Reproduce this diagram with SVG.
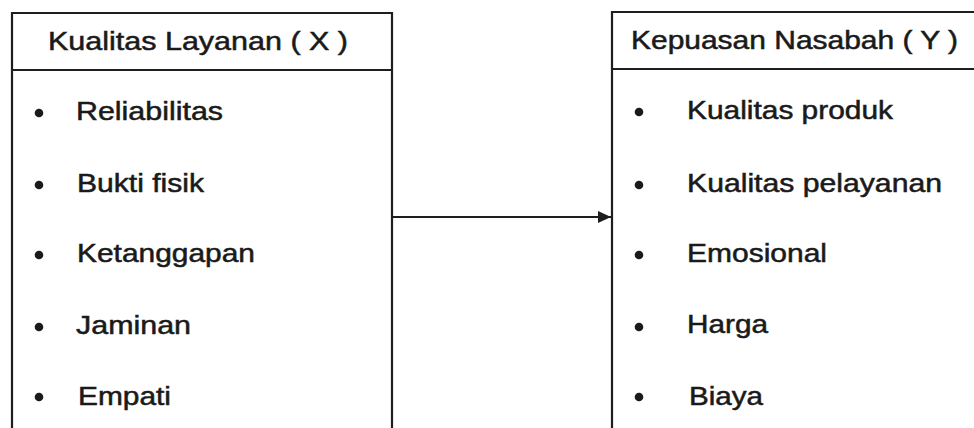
<svg xmlns="http://www.w3.org/2000/svg" width="974" height="428" viewBox="0 0 974 428">
  <style>
    .frame { fill: none; stroke: #1e1e1e; stroke-width: 2.2; }
    .title { font-family: "Liberation Sans", Arial, sans-serif; font-size: 25px; fill: #1a1a1a; stroke: #1a1a1a; stroke-width: 0.5; }
    .item { font-family: "Liberation Sans", Arial, sans-serif; font-size: 25px; fill: #1a1a1a; stroke: #1a1a1a; stroke-width: 0.5; }
    .dot { fill: #1a1a1a; }
    .link { stroke: #1e1e1e; stroke-width: 2.2; fill: none; }
  </style>
  <defs>
    <marker id="arrowhead" markerUnits="userSpaceOnUse" markerWidth="14" markerHeight="14" refX="13" refY="7" orient="auto">
      <path d="M0,1 L13,7 L0,13 Z" fill="#1e1e1e"/>
    </marker>
  </defs>
  <rect width="974" height="428" fill="#ffffff"/>

  <!-- Variable X: service quality -->
  <g id="node-x">
    <path class="frame" d="M12,430 V13 H392 V430"/>
    <line class="frame" x1="12" y1="70" x2="392" y2="70"/>
    <text class="title" x="48" y="50" textLength="300" lengthAdjust="spacingAndGlyphs">Kualitas Layanan ( X )</text>
    <circle class="dot" cx="39" cy="113" r="4.3"/>
    <text class="item" x="76" y="120" textLength="147" lengthAdjust="spacingAndGlyphs">Reliabilitas</text>
    <circle class="dot" cx="39" cy="185" r="4.3"/>
    <text class="item" x="77" y="192" textLength="127" lengthAdjust="spacingAndGlyphs">Bukti fisik</text>
    <circle class="dot" cx="39" cy="255" r="4.3"/>
    <text class="item" x="77" y="262" textLength="178" lengthAdjust="spacingAndGlyphs">Ketanggapan</text>
    <circle class="dot" cx="39" cy="327" r="4.3"/>
    <text class="item" x="76" y="334" textLength="115" lengthAdjust="spacingAndGlyphs">Jaminan</text>
    <circle class="dot" cx="39" cy="397" r="4.3"/>
    <text class="item" x="78" y="405" textLength="93" lengthAdjust="spacingAndGlyphs">Empati</text>
  </g>

  <!-- Variable Y: customer satisfaction -->
  <g id="node-y">
    <path class="frame" d="M612,430 V12 H980"/>
    <line class="frame" x1="612" y1="69" x2="980" y2="69"/>
    <text class="title" x="631" y="49" textLength="327" lengthAdjust="spacingAndGlyphs">Kepuasan Nasabah ( Y )</text>
    <circle class="dot" cx="639" cy="112" r="4.3"/>
    <text class="item" x="687" y="119" textLength="206" lengthAdjust="spacingAndGlyphs">Kualitas produk</text>
    <circle class="dot" cx="639" cy="185" r="4.3"/>
    <text class="item" x="687" y="192" textLength="255" lengthAdjust="spacingAndGlyphs">Kualitas pelayanan</text>
    <circle class="dot" cx="639" cy="255" r="4.3"/>
    <text class="item" x="687" y="262" textLength="140" lengthAdjust="spacingAndGlyphs">Emosional</text>
    <circle class="dot" cx="639" cy="327" r="4.3"/>
    <text class="item" x="687" y="333" textLength="81" lengthAdjust="spacingAndGlyphs">Harga</text>
    <circle class="dot" cx="639" cy="397" r="4.3"/>
    <text class="item" x="689" y="405" textLength="74" lengthAdjust="spacingAndGlyphs">Biaya</text>
  </g>

  <!-- Influence of X on Y -->
  <g id="connectors">
    <line class="link" x1="393" y1="217" x2="611" y2="217" marker-end="url(#arrowhead)"/>
  </g>
</svg>
